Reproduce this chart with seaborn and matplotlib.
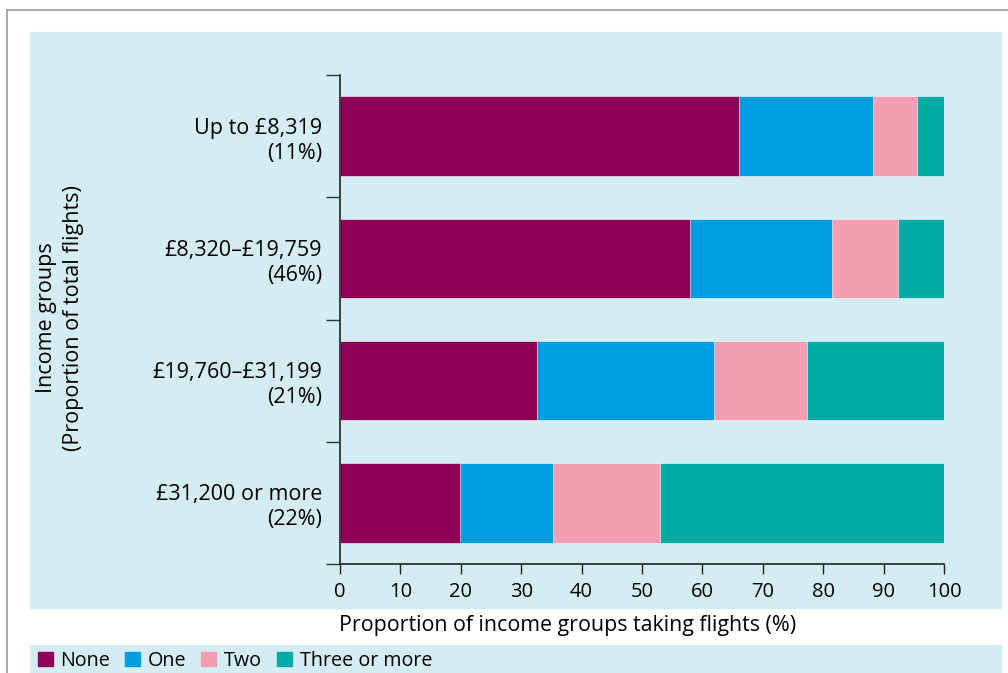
import pandas as pd
import matplotlib.pyplot as plt
import matplotlib.patches as mpatches
from matplotlib.lines import Line2D
from matplotlib.ticker import FixedLocator
import seaborn as sns

# data (% of each income group)
income_groups = ["Up to £8,319\n(11%)", "£8,320–£19,759\n(46%)",
                 "£19,760–£31,199\n(21%)", "£31,200 or more\n(22%)"]
flights_none = [66.1, 57.9, 32.6, 19.9]
flights_one = [22.2, 23.6, 29.4, 15.4]
flights_two = [7.3, 10.9, 15.4, 17.7]
flights_three = [4.4, 7.6, 22.6, 47.0]

series_names = ["None", "One", "Two", "Three or more"]
series_colors = ["#8e0055", "#009ddf", "#f49eb3", "#00aba6"]
panel_color = "#d4edf2"

sns.set_style("ticks")
plt.rcParams['font.family'] = ['Open Sans', 'DejaVu Sans']
plt.rcParams['text.color'] = "black"

W, H = 1008, 673
fig = plt.figure(figsize=(W / 100, H / 100), dpi=100, facecolor="white")


def fx(px):
    return px / W


def fy(py):
    return 1 - py / H


# background panels and frame lines
fig.patches.append(mpatches.Rectangle((fx(30), fy(608)), fx(1001) - fx(30), fy(32) - fy(608),
                                      transform=fig.transFigure, color=panel_color, zorder=-5))
fig.patches.append(mpatches.Rectangle((fx(30), fy(673)), fx(1001) - fx(30), fy(645) - fy(673),
                                      transform=fig.transFigure, color=panel_color, zorder=-5))
fig.lines.append(Line2D([fx(7), 1], [fy(10), fy(10)], transform=fig.transFigure,
                        color="#999999", lw=1.2))
fig.lines.append(Line2D([fx(7), fx(7)], [0, fy(10)], transform=fig.transFigure,
                        color="#999999", lw=1.2))

ax = fig.add_axes([fx(340), fy(564), fx(944) - fx(340), fy(75) - fy(564)])
ax.set_zorder(2)
ax.set_facecolor("none")

df = pd.DataFrame({"group": income_groups, "None": flights_none, "One": flights_one,
                   "Two": flights_two, "Three or more": flights_three})
cum = df[series_names].cumsum(axis=1)
cum["group"] = df["group"]

# stacked bars: draw cumulative totals from longest to shortest
for name, color in reversed(list(zip(series_names, series_colors))):
    sns.barplot(data=cum, x=name, y="group", orient="h", color=color,
                width=0.65, saturation=1, ax=ax, edgecolor="white", linewidth=0.4)

ax.set_xlim(0, 100)
ax.set_ylim(3.5, -0.5)
ax.set_xticks(range(0, 101, 10))
ax.tick_params(axis="x", labelsize=14.5, length=7, width=1, pad=6,
               color="#222222", labelcolor="black")
ax.tick_params(axis="y", which="major", length=0, pad=13, labelsize=15.5,
               labelcolor="black")
ax.yaxis.set_minor_locator(FixedLocator([-0.5, 0.5, 1.5, 2.5, 3.5]))
ax.tick_params(axis="y", which="minor", length=10, width=1, color="#333333")
for lab in ax.get_yticklabels():
    lab.set_horizontalalignment("right")
    lab.set_multialignment("right")
    lab.set_linespacing(1.25)
ax.set_xlabel("")
ax.set_ylabel("")
sns.despine(ax=ax)
for side in ["left", "bottom"]:
    ax.spines[side].set_linewidth(1.2)
    ax.spines[side].set_color("#222222")

fig.text(fx(60), fy(318), "Income groups\n(Proportion of total flights)", rotation=90,
         ha="center", va="center", fontsize=15.5, linespacing=1.4)
fig.text(fx(339), fy(625), "Proportion of income groups taking flights (%)",
         ha="left", va="center", fontsize=15.4)

handles = [mpatches.Patch(color=c, label=n) for n, c in zip(series_names, series_colors)]
fig.legend(handles=handles, loc="center left", bbox_to_anchor=(fx(34), fy(661)),
           ncol=4, frameon=False, fontsize=14.2, handlelength=0.75, handleheight=0.75,
           handletextpad=0.4, columnspacing=0.75, borderaxespad=0, borderpad=0.2)

fig.savefig("out.png", dpi=100, facecolor="white")
